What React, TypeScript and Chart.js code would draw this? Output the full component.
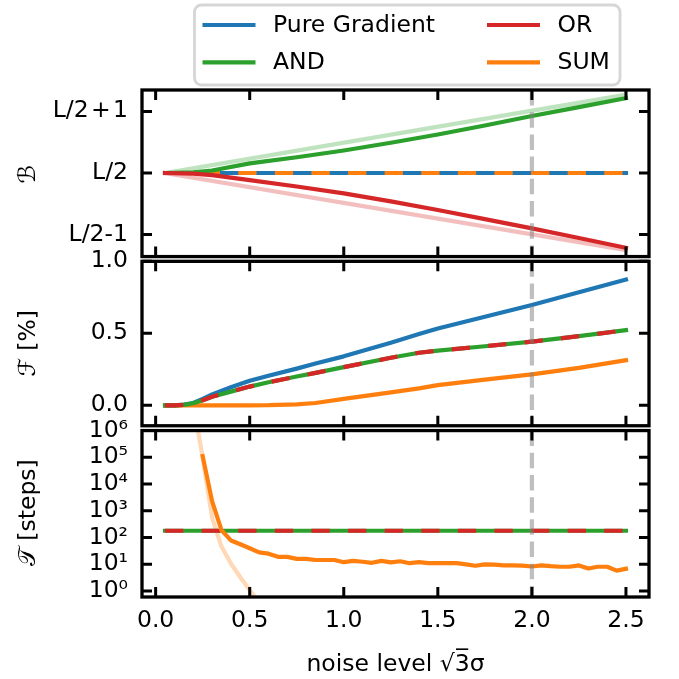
import { useEffect, useRef } from 'react';
import { Chart, registerables } from 'chart.js';

Chart.register(...registerables);

const BLUE = '#1f77b4';
const ORANGE = '#ff7f0e';
const GREEN = '#2ca02c';
const RED = '#d62728';
const FADED_GREEN = 'rgba(44,160,44,0.3)';
const FADED_RED = 'rgba(214,39,40,0.3)';
const FADED_ORANGE = 'rgba(255,127,14,0.3)';
const THRESH_COLOR = 'rgba(128,128,128,0.5)';

// ---------- shared x axis ----------
const X_TICKS = [0, 0.5, 1.0, 1.5, 2.0, 2.5];
const X_RANGE = [-0.0725, 2.6225];
const THRESHOLD_X = 2.0;
const X_TITLE = 'noise level \u221A3\u0305\u03C3';

// ---------- panel 1 : B ----------
const B_TICKS = [-1, 0, 1];
const B_TICK_LABELS = ['L/2-1', 'L/2', 'L/2\u200A+\u200A1'];
const B_LIM = [-1.357, 1.347];
const B_AXIS = [-1.385, 1.347];
const B_X = [0.05, 0.2, 0.3, 0.5, 0.75, 1.0, 1.25, 1.5, 1.75, 2.0, 2.25, 2.5];
const B_AND = [0, 0.01, 0.04, 0.155, 0.255, 0.365, 0.49, 0.625, 0.77, 0.925, 1.07, 1.215];
const B_OR = [0, -0.01, -0.035, -0.115, -0.22, -0.33, -0.46, -0.6, -0.75, -0.9, -1.055, -1.215];
const B_FLAT_X = [0.05, 2.5];
const B_PURE = [0, 0];
const B_SUM = [0, 0];
const B_AND_REF = [0, 1.27];
const B_OR_REF = [0, -1.25];

// ---------- panel 2 : F [%] ----------
const F_TICKS = [0, 0.5, 1.0];
const F_LIM = [-0.142, 1.0];
const F_AXIS = [-0.16, 1.021];
const F_X = [0.05, 0.1, 0.15, 0.2, 0.25, 0.3, 0.4, 0.5, 0.6, 0.75, 0.85, 1.0, 1.25, 1.4, 1.5, 1.75, 2.0, 2.25, 2.5];
const F_PURE = [0, 0, 0.005, 0.016, 0.045, 0.075, 0.125, 0.17, 0.205, 0.255, 0.29, 0.34, 0.435, 0.495, 0.533, 0.615, 0.697, 0.785, 0.873];
const F_AND = [0, 0, 0.003, 0.014, 0.035, 0.06, 0.095, 0.13, 0.16, 0.2, 0.225, 0.265, 0.33, 0.365, 0.38, 0.41, 0.442, 0.48, 0.522];
const F_OR = F_AND;
const F_SUM = [0, 0, 0, 0, 0, 0, 0, 0, 0.001, 0.007, 0.016, 0.045, 0.09, 0.118, 0.14, 0.178, 0.215, 0.26, 0.313];

// ---------- panel 3 : T [steps] ----------
const T_TICKS = [1, 10, 100, 1e3, 1e4, 1e5, 1e6];
const T_TICK_LABELS = ['10\u2070', '10\u00B9', '10\u00B2', '10\u00B3', '10\u2074', '10\u2075', '10\u2076'];
const T_LIM = [0.6, 1e6];
const T_AXIS = [0.6, 1.21e6];
const T_FLAT_X = [0.05, 2.5];
const T_AND = [180, 180];
const T_OR = [180, 180];
const T_SUM_X = [0.25, 0.3, 0.35, 0.4, 0.45, 0.5, 0.55, 0.6, 0.65, 0.7, 0.75, 0.8, 0.85, 0.9, 0.95, 1.0,
  1.05, 1.1, 1.15, 1.2, 1.25, 1.3, 1.35, 1.4, 1.45, 1.5, 1.55, 1.6, 1.65, 1.7, 1.75, 1.8, 1.85, 1.9, 1.95, 2.0,
  2.05, 2.1, 2.15, 2.2, 2.25, 2.3, 2.35, 2.4, 2.45, 2.5];
const T_SUM = [1.1e5, 2300, 190, 78, 56, 40, 28, 25, 19, 19, 16, 16, 14.5, 14.5, 14.5, 12,
  13.5, 12.5, 11.4, 13.5, 11.8, 13, 11, 12, 11, 11, 11, 11, 10, 8.8, 10, 9.8, 9.2, 9.2, 9.0, 8.3,
  9.1, 8.5, 8.1, 8.1, 9.1, 7.0, 8.1, 8.1, 5.8, 6.8];
const T_SUM_REF_X = [0.2, 0.25, 0.3, 0.35, 0.4, 0.45, 0.5, 0.55];
const T_SUM_REF = [1e7, 1e5, 550, 46, 10.7, 3.3, 1.1, 0.35];

// ---------- legend ----------
const LEGEND_ITEMS = [
  { label: 'Pure Gradient', color: BLUE },
  { label: 'AND', color: GREEN },
  { label: 'OR', color: RED },
  { label: 'SUM', color: ORANGE },
];

const FONT = "'DejaVu Sans', sans-serif";
const FS = 23.5;
const LW = 4.2;
const DASH = [18.3, 18.3];
const TICK_LEN = 10;

const LIMITS: Record<string, number[]> = { yB: B_LIM, yF: F_LIM, yT: T_LIM };
const PANELS = ['yB', 'yF', 'yT'];

const pts = (xs: number[], ys: number[]) => xs.map((x, i) => ({ x, y: ys[i] }));

function frameOf(chart: any, id: string) {
  const s = chart.scales[id];
  const [lo, hi] = LIMITS[id];
  return {
    left: chart.chartArea.left,
    right: chart.chartArea.right,
    top: s.getPixelForValue(hi),
    bottom: s.getPixelForValue(lo),
  };
}

const framePlugin = {
  id: 'panelFrames',
  beforeDatasetDraw(chart: any, args: any) {
    const ds = chart.data.datasets[args.index];
    const f = frameOf(chart, ds.yAxisID);
    const ctx = chart.ctx;
    ctx.save();
    ctx.beginPath();
    ctx.rect(f.left, f.top, f.right - f.left, f.bottom - f.top);
    ctx.clip();
  },
  afterDatasetDraw(chart: any) {
    chart.ctx.restore();
  },
  afterDatasetsDraw(chart: any) {
    const ctx = chart.ctx;
    const xs = chart.scales.x;
    for (const id of PANELS) {
      const f = frameOf(chart, id);
      const ys = chart.scales[id];
      ctx.save();
      ctx.strokeStyle = '#000';
      ctx.lineWidth = 3.0;
      ctx.lineCap = 'butt';
      ctx.beginPath();
      for (const v of X_TICKS) {
        const px = xs.getPixelForValue(v);
        ctx.moveTo(px, f.top);
        ctx.lineTo(px, f.top + TICK_LEN);
        ctx.moveTo(px, f.bottom);
        ctx.lineTo(px, f.bottom - TICK_LEN);
      }
      for (const t of ys.ticks) {
        const py = ys.getPixelForValue(t.value);
        ctx.moveTo(f.left, py);
        ctx.lineTo(f.left + TICK_LEN, py);
        ctx.moveTo(f.right, py);
        ctx.lineTo(f.right - TICK_LEN, py);
      }
      ctx.stroke();
      ctx.lineWidth = 3.3;
      ctx.strokeRect(f.left, f.top, f.right - f.left, f.bottom - f.top);
      ctx.restore();
    }
  },
  afterDraw(chart: any) {
    const ctx = chart.ctx;
    ctx.save();
    // legend box
    const bx = 194.5, by = 5, bw = 425.5, bh = 80, r = 7;
    ctx.beginPath();
    ctx.roundRect(bx, by, bw, bh, r);
    ctx.fillStyle = 'rgba(255,255,255,0.8)';
    ctx.fill();
    ctx.lineWidth = 2.8;
    ctx.strokeStyle = 'rgba(204,204,204,0.8)';
    ctx.stroke();
    const colX = [202.5, 487];
    const rowY = [25, 62.3];
    ctx.font = `${FS}px ${FONT}`;
    ctx.textBaseline = 'middle';
    ctx.textAlign = 'left';
    LEGEND_ITEMS.forEach((it, i) => {
      const c = Math.floor(i / 2), rr = i % 2;
      const x = colX[c], y = rowY[rr];
      ctx.beginPath();
      ctx.strokeStyle = it.color;
      ctx.lineWidth = LW;
      ctx.lineCap = 'butt';
      ctx.moveTo(x, y);
      ctx.lineTo(x + 53, y);
      ctx.stroke();
      ctx.fillStyle = '#000';
      ctx.fillText(it.label, x + 70.5, y + 1);
    });
    ctx.restore();
  },
};

function line(label: string, data: any[], color: string, yAxisID: string, dashed = false) {
  return {
    label,
    data,
    yAxisID,
    xAxisID: 'x',
    borderColor: color,
    backgroundColor: color,
    borderWidth: LW,
    borderDash: dashed ? DASH : [],
    borderCapStyle: dashed ? 'butt' : 'square',
    borderJoinStyle: 'round',
    pointRadius: 0,
    pointHoverRadius: 0,
    tension: 0,
    fill: false,
    clip: false,
  };
}

function threshold(yAxisID: string, lim: number[]) {
  return {
    ...line('threshold', [{ x: THRESHOLD_X, y: lim[1] }, { x: THRESHOLD_X, y: lim[0] }], THRESH_COLOR, yAxisID),
    borderDash: [15.5, 6.7],
    borderCapStyle: 'butt',
  };
}

function yScale(weight: number, axis: number[], ticks: number[], labels: (v: number, i: number) => string, title: string, type = 'linear') {
  return {
    type,
    position: 'left',
    stack: 'panels',
    stackWeight: weight,
    min: axis[0],
    max: axis[1],
    offset: false,
    grid: { display: false, drawTicks: false },
    border: { display: false },
    afterBuildTicks: (s: any) => {
      s.ticks = ticks.map((v) => ({ value: v }));
    },
    afterFit: (s: any) => {
      s.width = 142;
    },
    ticks: {
      autoSkip: false,
      padding: 14,
      color: '#000',
      font: { family: FONT, size: FS },
      callback: (v: any, i: number) => labels(Number(v), i),
    },
    title: {
      display: true,
      text: title,
      color: '#000',
      font: { family: FONT, size: FS },
      padding: { top: 15, bottom: 0 },
    },
  };
}

export default function App() {
  const ref = useRef<HTMLCanvasElement | null>(null);

  useEffect(() => {
    if (!ref.current) return;
    // draw order: first listed = bottom
    const list: any[] = [
      line('AND ref', pts(B_FLAT_X, B_AND_REF), FADED_GREEN, 'yB'),
      line('OR ref', pts(B_FLAT_X, B_OR_REF), FADED_RED, 'yB'),
      line('Pure Gradient', pts(B_FLAT_X, B_PURE), BLUE, 'yB'),
      line('SUM', pts(B_FLAT_X, B_SUM), ORANGE, 'yB', true),
      line('AND', pts(B_X, B_AND), GREEN, 'yB'),
      line('OR', pts(B_X, B_OR), RED, 'yB'),

      line('Pure Gradient', pts(F_X, F_PURE), BLUE, 'yF'),
      line('SUM', pts(F_X, F_SUM), ORANGE, 'yF'),
      line('AND', pts(F_X, F_AND), GREEN, 'yF'),
      line('OR', pts(F_X, F_OR), RED, 'yF', true),

      line('SUM ref', pts(T_SUM_REF_X, T_SUM_REF), FADED_ORANGE, 'yT'),
      line('AND', pts(T_FLAT_X, T_AND), GREEN, 'yT'),
      line('OR', pts(T_FLAT_X, T_OR), RED, 'yT', true),
      line('SUM', pts(T_SUM_X, T_SUM), ORANGE, 'yT'),

      threshold('yB', B_LIM),
      threshold('yF', F_LIM),
      threshold('yT', T_LIM),
    ];
    const n = list.length;
    list.forEach((d, i) => (d.order = n - i));

    const chart = new Chart(ref.current, {
      type: 'line',
      data: { datasets: list },
      plugins: [framePlugin as any],
      options: {
        animation: false,
        responsive: false,
        events: [],
        layout: { padding: { top: 90, left: 0, right: 30, bottom: 0 } },
        plugins: {
          legend: { display: false },
          tooltip: { enabled: false },
          title: { display: false },
        },
        scales: {
          x: {
            type: 'linear',
            position: 'bottom',
            min: X_RANGE[0],
            max: X_RANGE[1],
            grid: { display: false, drawTicks: false },
            border: { display: false },
            afterBuildTicks: (s: any) => {
              s.ticks = X_TICKS.map((v) => ({ value: v }));
            },
            afterFit: (s: any) => {
              s.height = 82;
            },
            ticks: {
              autoSkip: false,
              maxRotation: 0,
              padding: 10,
              color: '#000',
              font: { family: FONT, size: FS },
              callback: (v: any) => Number(v).toFixed(1),
            },
            title: {
              display: true,
              text: X_TITLE,
              color: '#000',
              font: { family: FONT, size: FS },
              padding: { top: 0, bottom: 0.5 },
            },
          },
          yT: yScale(168.65, T_AXIS, T_TICKS, (_v, i) => T_TICK_LABELS[i], '\uD835\uDCAF [steps]', 'logarithmic'),
          yF: yScale(170.05, F_AXIS, F_TICKS, (v) => v.toFixed(1), '\u2131 [%]'),
          yB: yScale(168.3, B_AXIS, B_TICKS, (_v, i) => B_TICK_LABELS[i], '\u212C'),
        } as any,
      },
    } as any);
    return () => chart.destroy();
  }, []);

  return (
    <div style={{ position: 'fixed', left: 0, top: 0, width: 679, height: 679, background: '#fff' }}>
      <canvas ref={ref} width={679} height={679} style={{ display: 'block' }} />
    </div>
  );
}
